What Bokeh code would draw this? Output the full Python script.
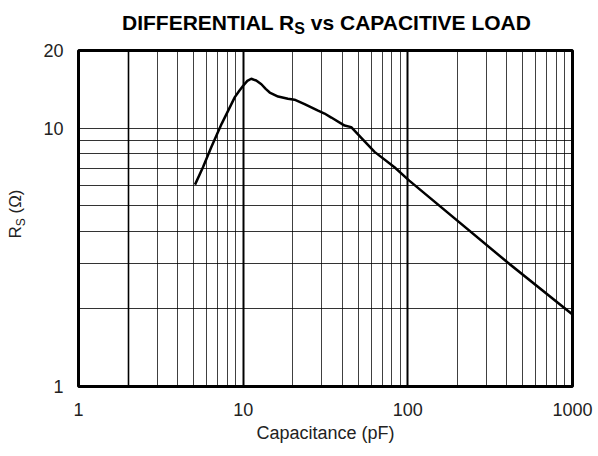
import math
from bokeh.plotting import figure
from bokeh.models import Range1d, FixedTicker, PrintfTickFormatter, Grid, Div
from bokeh.layouts import column, row
from bokeh.embed import file_html
from bokeh.resources import INLINE

# ---- data ----
cap_pf = [5.1, 5.7, 6.4, 7.4, 8.9, 9.5, 10.0, 10.6, 11.2, 12.0, 12.9, 13.7,
          14.5, 16.3, 18.7, 20.5, 23.6, 28.5, 31.2, 34.3, 41.3, 45.3, 52.0,
          62.8, 83.0, 102.0, 404.0, 1000.0]
rs_ohm = [6.05, 7.06, 8.44, 10.4, 13.2, 14.0, 14.6, 15.25, 15.55, 15.3, 14.8,
          14.2, 13.75, 13.27, 13.0, 12.9, 12.4, 11.7, 11.4, 11.0, 10.24, 10.1,
          9.2, 8.1, 7.06, 6.27, 3.02, 1.90]

x_ticks = [1, 10, 100, 1000]
y_ticks = [1, 10, 20]
x_major_grid = [10, 100]
x_bold_minor = [2]
x_minor_grid = [3, 4, 5, 6, 7, 8, 9, 20, 30, 40, 50, 60, 70, 80, 90,
                200, 300, 400, 500, 600, 700, 800, 900]
y_grid = [2, 3, 4, 5, 6, 7, 8, 9, 10]

title_parts = ["DIFFERENTIAL R", "S", "vs CAPACITIVE LOAD"]
ylabel_parts = ["R", "S", "(\u03a9)"]
x_label = "Capacitance (pF)"

FONT = "Liberation Sans"

# ---- layout geometry (page pixels) ----
TOTAL_W, TOTAL_H = 594, 452
TITLE_H = 38
YLAB_W = 40
FRAME_L, FRAME_R, FRAME_T, FRAME_B = 77, 572, 50, 386

MW = TOTAL_W - YLAB_W
MH = TOTAL_H - TITLE_H

# ---- main chart ----
p = figure(width=MW, height=MH, x_axis_type="log", y_axis_type="log",
           x_range=Range1d(1, 1000), y_range=Range1d(1, 20),
           output_backend="svg", toolbar_location=None,
           min_border_left=FRAME_L - YLAB_W, min_border_right=TOTAL_W - FRAME_R,
           min_border_top=FRAME_T - TITLE_H, min_border_bottom=TOTAL_H - FRAME_B)
p.background_fill_color = "white"
p.border_fill_color = "white"
p.outline_line_color = "black"
p.outline_line_width = 3

for ax in (p.xaxis[0], p.yaxis[0]):
    ax.axis_line_color = None
    ax.major_tick_line_color = None
    ax.minor_tick_line_color = None
    ax.major_tick_out = 0
    ax.major_tick_in = 0
    ax.major_label_text_font = FONT
    ax.major_label_text_font_size = "18px"
    ax.major_label_text_color = "#222222"
    ax.formatter = PrintfTickFormatter(format="%d")

p.xaxis.ticker = FixedTicker(ticks=x_ticks)
p.yaxis.ticker = FixedTicker(ticks=y_ticks)
p.xaxis.major_label_standoff = 16
p.yaxis.major_label_standoff = 15
p.xaxis.axis_label = x_label
p.xaxis.axis_label_text_font = FONT
p.xaxis.axis_label_text_font_size = "18px"
p.xaxis.axis_label_text_font_style = "normal"
p.xaxis.axis_label_text_color = "#222222"
p.xaxis.axis_label_standoff = 4

p.xgrid.ticker = FixedTicker(ticks=x_major_grid, minor_ticks=x_minor_grid)
p.xgrid.grid_line_color = "black"
p.xgrid.grid_line_width = 2
p.xgrid.minor_grid_line_color = "black"
p.xgrid.minor_grid_line_alpha = 0.75
p.xgrid.minor_grid_line_width = 1

p.ygrid.ticker = FixedTicker(ticks=y_grid)
p.ygrid.grid_line_color = "black"
p.ygrid.grid_line_alpha = 0.8
p.ygrid.grid_line_width = 1

p.add_layout(Grid(dimension=0, ticker=FixedTicker(ticks=x_bold_minor),
                  grid_line_color="black", grid_line_width=1.6))

p.line(cap_pf, rs_ohm, line_color="black", line_width=2.5)

# ---- title (HTML with a real subscript) ----
title_html = (
    f'<div style="position:relative;width:{TOTAL_W}px;height:{TITLE_H}px;">'
    f'<div style="position:absolute;left:122px;top:12px;white-space:nowrap;'
    f"font-family:'{FONT}';font-size:21px;font-weight:bold;line-height:21px;color:black;\">"
    f'{title_parts[0]}<span style="font-size:16px;position:relative;top:4px;">'
    f'{title_parts[1]}</span> {title_parts[2]}</div></div>'
)
tl = Div(text=title_html, width=TOTAL_W, height=TITLE_H, margin=0)

# ---- rotated y-axis label (HTML, rotated with CSS) ----
y_center = 213.5 - TITLE_H
ylab_html = (
    f'<div style="position:relative;width:{YLAB_W}px;height:{MH}px;">'
    f'<div style="position:absolute;left:16px;top:{y_center}px;'
    f'transform:translate(-50%,-50%) rotate(-90deg);white-space:nowrap;'
    f"font-family:'{FONT}';font-size:17px;line-height:17px;color:#222222;\">"
    f'{ylabel_parts[0]}<span style="font-size:12px;position:relative;top:4px;">'
    f'{ylabel_parts[1]}</span> {ylabel_parts[2]}</div></div>'
)
yl = Div(text=ylab_html, width=YLAB_W, height=MH, margin=0)

layout = column(tl, row(yl, p, spacing=0), spacing=0)
open("out.html", "w").write(file_html(layout, INLINE))
